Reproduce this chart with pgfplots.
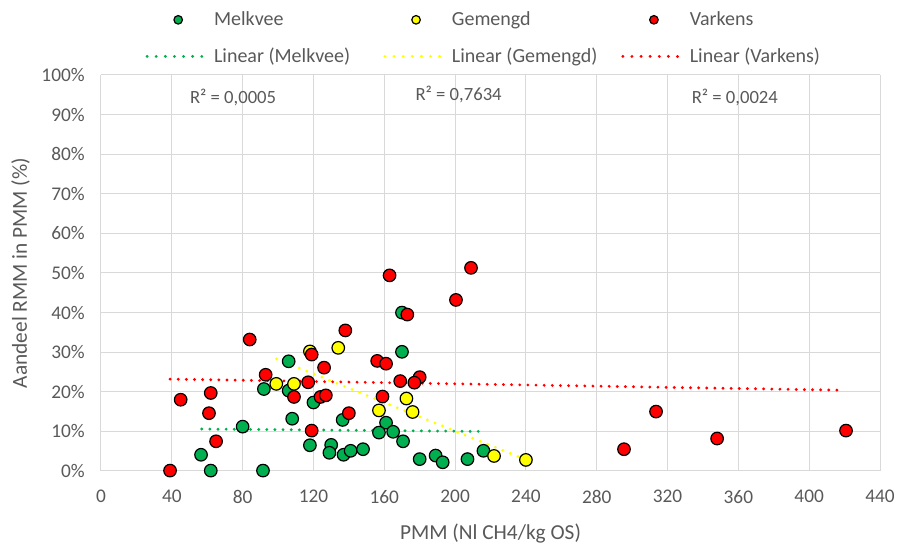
\documentclass[border=0pt]{standalone}
\usepackage{fontspec}
\setmainfont{Carlito}
\usepackage{pgfplots}
\pgfplotsset{compat=1.18}
\definecolor{mgreen}{HTML}{00B050}
\definecolor{myellow}{HTML}{FFFF00}
\definecolor{mred}{HTML}{FF0000}
\definecolor{tgray}{HTML}{595959}
\definecolor{ggray}{HTML}{D9D9D9}
\pgfplotsset{
  trend/.style={line width=2.4pt, line cap=round, dash pattern=on 0pt off 6.1pt},
  dot/.style={only marks, mark=*, mark size=4.7pt, mark options={fill=#1, draw=black, line width=0.9pt},
    legend image code/.code={\path (0pt,-4pt) (47pt,4pt); \draw[##1,mark size=3.2pt] plot coordinates {(23.3pt,0pt)};}},
  lineleg/.style={legend image code/.code={\path (0pt,-4pt) (47pt,4pt); \draw[##1, dash pattern=on 0pt off 6.83pt] (0pt,0pt) -- (41pt,0pt);}},
}
\newcommand{\lt}[1]{\makebox[102pt][l]{#1}}
\begin{document}
\begin{tikzpicture}
\begin{axis}[
  name=ax,
  scale only axis,
  width=584.25pt, height=297pt,
  xmin=0, xmax=440, ymin=0, ymax=100,
  xtick={0,40,...,440}, ytick={0,10,...,100},
  grid=major,
  grid style={ggray, line width=0.75pt},
  axis line style={draw=none},
  major tick length=0pt,
  clip=false,
  /pgf/number format/assume math mode=true,
  yticklabel={\pgfmathprintnumber{\tick}\%},
  tick label style={font=\fontsize{14.5}{17}\selectfont, text=tgray},
  yticklabel style={xshift=-8.7pt},
  xticklabel style={yshift=-10.9pt},
  xlabel={PMM (Nl CH4/kg OS)},
  ylabel={Aandeel RMM in PMM (\%)},
  label style={font=\fontsize{16}{19}\selectfont, text=tgray},
  xlabel style={at={(axis description cs:0.5,-0.174)}, anchor=base},
  ylabel style={at={(axis description cs:-0.095,0.5)}, anchor=base},
  legend columns=3,
  legend style={draw=none, fill=none, inner sep=0pt,
    at={(axis description cs:0.4955,1)}, anchor=south, yshift=5.5pt,
    font=\fontsize{15}{18}\selectfont, text=tgray,
    row sep=11.25pt,
    /tikz/every even column/.append style={column sep=23pt}},
  legend cell align=left,
]
% trend lines (drawn below markers)
\addplot[forget plot, mgreen, trend] coordinates {(56.9,10.6) (215,10.0)};
\addplot[forget plot, myellow, trend] coordinates {(99.2,28.3) (239.7,2.9)};
\addplot[forget plot, mred, trend] coordinates {(39,23.2) (419.9,20.4)};

% Melkvee
\addplot[dot=mgreen] coordinates {
(92,20.7) (106,27.7) (106,20.3) (108,13.2) (80,11.2) (56.5,4.1) (62,0.1) (91.5,0.1)
(120,17.3) (136.5,12.9) (161,12.2) (157,9.7) (165,9.9) (170.6,7.5) (118,6.5) (130,6.6)
(129,4.6) (137,4.1) (141,5.1) (148,5.5) (180,3.0) (189,3.9) (193,2.2) (207,3.0)
(216,5.1) (170,40) (170,30.1)};
\addlegendentry{\lt{Melkvee}}
% Gemengd
\addplot[dot=myellow] coordinates {
(99,22) (109,22) (118,30.2) (134,31.1) (172.5,18.3) (157,15.3) (176,14.9) (222,3.8) (240,2.8)};
\addlegendentry{\lt{Gemengd}}
% Varkens
\addplot[dot=mred] coordinates {
(84,33.2) (93,24.3) (109,18.7) (45,18) (62,19.7) (61,14.6) (65,7.5) (39,0.1)
(163,49.4) (173,39.5) (138,35.5) (119,29.4) (156,27.8) (161,27.1) (126,26.1) (169,22.7)
(180,23.7) (177,22.3) (117,22.4) (124,18.7) (127,19.1) (159,18.8) (140,14.6) (119,10.2)
(209,51.3) (200.5,43.2) (295.4,5.5) (313.5,15.0) (348,8.2) (420.8,10.2)};
\addlegendentry{\lt{Varkens}}

\addlegendimage{mgreen, trend, lineleg}
\addlegendentry{\lt{Linear (Melkvee)}}
\addlegendimage{myellow, trend, lineleg}
\addlegendentry{\lt{Linear (Gemengd)}}
\addlegendimage{mred, trend, lineleg}
\addlegendentry{\lt{Linear (Varkens)}}

\node[font=\fontsize{14}{16}\selectfont, text=tgray] at (axis cs:74.6,94.2) {R² = 0,0005};
\node[font=\fontsize{14}{16}\selectfont, text=tgray] at (axis cs:202,95) {R² = 0,7634};
\node[font=\fontsize{14}{16}\selectfont, text=tgray] at (axis cs:358,94.2) {R² = 0,0024};
\end{axis}
\pgfresetboundingbox
\path[use as bounding box] ([shift={(-75.75pt,-55.5pt)}]ax.south west) rectangle ([shift={(13.5pt,56.25pt)}]ax.north east);
\end{tikzpicture}
\end{document}
